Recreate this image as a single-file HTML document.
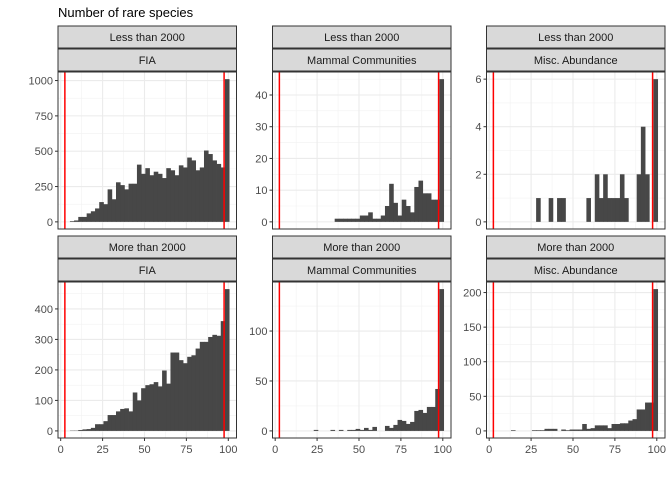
<!DOCTYPE html>
<html><head><meta charset="utf-8"><style>
body{margin:0;background:#fff;}
svg{display:block;font-family:"Liberation Sans",sans-serif;}
</style></head><body>
<svg id="chart" width="672" height="480" viewBox="0 0 672 480" xmlns="http://www.w3.org/2000/svg">
<text x="58" y="17" font-size="13" fill="#000">Number of rare species</text>
</svg>
<script>
// bins: start = 5.5 + 2.5*i, i = 0..37
const binStart0 = 5.5;
const binWidth = 2.5;
const fiaLess = [5,10,35,35,60,75,95,140,125,230,160,280,260,230,270,270,405,340,380,330,355,340,310,380,365,330,400,385,455,435,365,385,505,480,435,410,385,1010];
const mammalLess = [0,0,0,0,0,0,0,0,0,0,0,0,1,1,1,1,1,1,2,2,3,1,1,2,5,12,6,2,7,5,3,11,13,9,9,7,7,45];
const miscLess = [0,0,0,0,0,0,0,0,0,1,0,0,1,0,1,1,0,0,0,0,0,1,0,2,1,2,1,1,1,2,1,0,0,2,4,2,0,6];
const fiaMore = [1,1,3,5,6,10,22,22,32,52,52,64,72,74,64,126,100,140,150,153,160,146,198,155,257,257,232,222,243,248,270,292,292,308,315,312,360,465];
const mammalMore = [0,0,0,0,0,0,0,1,0,0,0,1,0,1,0,1,1,2,1,3,1,4,0,0,5,3,6,11,10,7,9,20,21,18,24,24,42,142];
const miscMore = [0,0,0,1,0,0,0,0,1,1,1,3,3,3,0,2,1,2,2,2,10,3,4,8,8,8,4,10,10,11,11,15,17,31,31,41,41,205];
const redLines = [2.5, 97.5];
const xTicks = [0,25,50,75,100];
const yTicksFiaLess = [0,250,500,750,1000];
const yTicksMammalLess = [0,10,20,30,40];
const yTicksMiscLess = [0,2,4,6];
const yTicksFiaMore = [0,100,200,300,400];
const yTicksMammalMore = [0,50,100];
const yTicksMiscMore = [0,50,100,150,200];
const periods = ["Less than 2000","More than 2000"];
const sources = ["FIA","Mammal Communities","Misc. Abundance"];

const NS="http://www.w3.org/2000/svg";
const svg=document.getElementById('chart');
function mk(tag,attrs,parent){const e=document.createElementNS(NS,tag);for(const k in attrs)e.setAttribute(k,attrs[k]);(parent||svg).appendChild(e);return e;}

const panels=[
 {row:0,col:0,data:fiaLess,ticks:yTicksFiaLess},
 {row:0,col:1,data:mammalLess,ticks:yTicksMammalLess},
 {row:0,col:2,data:miscLess,ticks:yTicksMiscLess},
 {row:1,col:0,data:fiaMore,ticks:yTicksFiaMore},
 {row:1,col:1,data:mammalMore,ticks:yTicksMammalMore},
 {row:1,col:2,data:miscMore,ticks:yTicksMiscMore}
];
const colLeft=[58,272.5,486.5], pw=178.5;
const rowTop=[72,282], ph=[157,156];
const stripTop=[[26,49],[236,259]];
const xmin=-1.6,xmax=104.9;

panels.forEach(p=>{
  const g=mk('g',{});
  
  
  const L=colLeft[p.col],T=rowTop[p.row],H=ph[p.row];
  const ymaxD=Math.max(...p.data);
  const y0=-0.05*ymaxD,y1=1.05*ymaxD;
  const sx=v=>L+(v-xmin)/(xmax-xmin)*pw;
  const sy=v=>T+H-(v-y0)/(y1-y0)*H;
  [periods[p.row],sources[p.col]].forEach((t,k)=>{
    const st=stripTop[p.row][k];
    const r=mk('rect',{x:L,y:st,width:pw,height:22,fill:'#d9d9d9',stroke:'#333','stroke-width':1},g);
    
    
    const tx=mk('text',{x:L+pw/2,y:st+15,'text-anchor':'middle','font-size':11,fill:'#1a1a1a'},g);
    
    
    tx.textContent=t;
  });
  for(let i=0;i<xTicks.length-1;i++){const m=(xTicks[i]+xTicks[i+1])/2;mk('line',{x1:sx(m),x2:sx(m),y1:T,y2:T+H,stroke:'#f2f2f2','stroke-width':0.6},g);}
  const yt=p.ticks,step=yt[1]-yt[0];
  for(let v=yt[0]-step/2;v<=y1;v+=step){if(v>y0)mk('line',{x1:L,x2:L+pw,y1:sy(v),y2:sy(v),stroke:'#f2f2f2','stroke-width':0.6},g);}
  xTicks.forEach(v=>mk('line',{x1:sx(v),x2:sx(v),y1:T,y2:T+H,stroke:'#ebebeb','stroke-width':1.1},g));
  yt.forEach(v=>mk('line',{x1:L,x2:L+pw,y1:sy(v),y2:sy(v),stroke:'#ebebeb','stroke-width':1.1},g));
  p.data.forEach((v,i)=>{
    if(v<=0)return;
    const s=binStart0+binWidth*i;
    const b=mk('rect',{x:sx(s),y:sy(v),width:sx(s+binWidth)-sx(s)+0.4,height:sy(0)-sy(v),fill:'#474747'},g);
    
    
  });
  redLines.forEach(v=>{
    const l=mk('line',{x1:sx(v),x2:sx(v),y1:T,y2:T+H,stroke:'#ff0000','stroke-width':1.5},g);
    
    
  });
  mk('rect',{x:L,y:T,width:pw,height:H,fill:'none',stroke:'#333','stroke-width':1},g);
  yt.forEach(v=>{
    mk('line',{x1:L-3,x2:L,y1:sy(v),y2:sy(v),stroke:'#333','stroke-width':1},g);
    const t=mk('text',{x:L-5,y:sy(v)+4,'text-anchor':'end','font-size':11,fill:'#4d4d4d'},g);
    
    
    t.textContent=v;
  });
  if(p.row===1){
    xTicks.forEach(v=>{
      mk('line',{x1:sx(v),x2:sx(v),y1:T+H,y2:T+H+3,stroke:'#333','stroke-width':1},g);
      const t=mk('text',{x:sx(v),y:T+H+15,'text-anchor':'middle','font-size':11,fill:'#4d4d4d'},g);
      
      
      t.textContent=v;
    });
  }
});
</script>
</body></html>
